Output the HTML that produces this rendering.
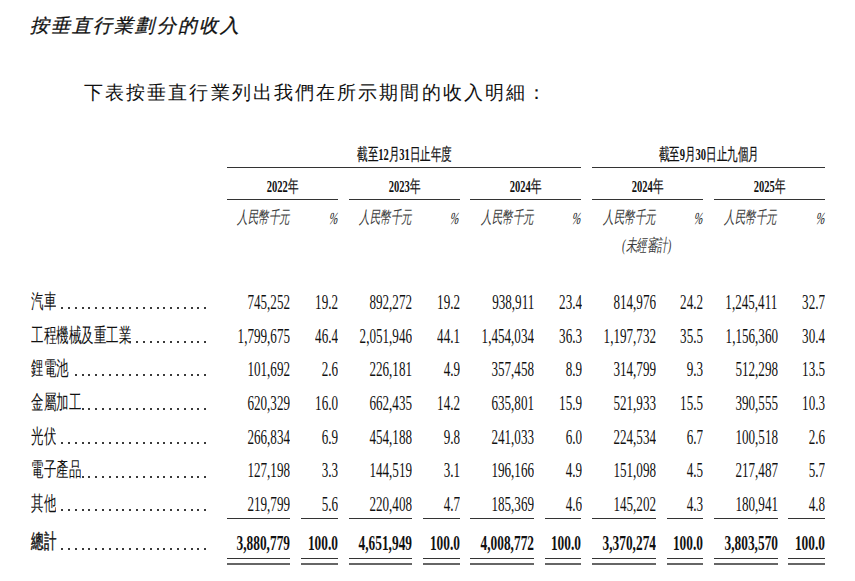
<!DOCTYPE html><html><head><meta charset="utf-8"><style>
html,body{margin:0;padding:0;background:#fff;}
body{width:855px;height:581px;position:relative;overflow:hidden;color:#111;font-family:"Liberation Serif";}
.t{position:absolute;white-space:nowrap;line-height:1;}
.r{transform-origin:100% 0;}
.c{transform-origin:50% 0;}
.l{transform-origin:0 0;}
.ln{position:absolute;background:#333;height:1.2px;}
</style></head><body>
<div class="t" style="left:30px;top:15.7px;font-size:19px;letter-spacing:2.1px;font-family:'Liberation Sans';font-style:italic;-webkit-text-stroke:0.3px #111;">按垂直行業劃分的收入</div>
<div class="t" style="left:84px;top:83px;font-size:19px;letter-spacing:2.1px;">下表按垂直行業列出我們在所示期間的收入明細：</div>
<div class="ln" style="left:226.70px;top:167.00px;width:354.80px;height:1.2px;background:#333"></div>
<div class="ln" style="left:592.10px;top:167.00px;width:233.00px;height:1.2px;background:#333"></div>
<div class="ln" style="left:226.70px;top:199.00px;width:111.20px;height:1.2px;background:#333"></div>
<div class="ln" style="left:348.50px;top:199.00px;width:111.20px;height:1.2px;background:#333"></div>
<div class="ln" style="left:470.30px;top:199.00px;width:111.20px;height:1.2px;background:#333"></div>
<div class="ln" style="left:592.10px;top:199.00px;width:111.20px;height:1.2px;background:#333"></div>
<div class="ln" style="left:713.90px;top:199.00px;width:111.20px;height:1.2px;background:#333"></div>
<div class="t" style="left:204.10px;width:400px;text-align:center;top:145.50px;font-size:17px;font-weight:bold;"><span style="display:inline-block;transform:scaleX(0.62);transform-origin:50% 0"><span style="font-weight:normal;-webkit-text-stroke:0.25px #111">截至</span>12<span style="font-weight:normal;-webkit-text-stroke:0.25px #111">月</span>31<span style="font-weight:normal;-webkit-text-stroke:0.25px #111">日止年度</span></span></div>
<div class="t" style="left:508.60px;width:400px;text-align:center;top:145.50px;font-size:17px;font-weight:bold;"><span style="display:inline-block;transform:scaleX(0.62);transform-origin:50% 0"><span style="font-weight:normal;-webkit-text-stroke:0.25px #111">截至</span>9<span style="font-weight:normal;-webkit-text-stroke:0.25px #111">月</span>30<span style="font-weight:normal;-webkit-text-stroke:0.25px #111">日止九個月</span></span></div>
<div class="t" style="left:82.30px;width:400px;text-align:center;top:178.00px;font-size:17px;font-weight:bold;"><span style="display:inline-block;transform:scaleX(0.62);transform-origin:50% 0">2022<span style="font-weight:normal;-webkit-text-stroke:0.25px #111">年</span></span></div>
<div class="t" style="left:-9.80px;width:300px;text-align:right;top:209.20px;font-size:17px;font-style:italic;color:#3a3a3a;"><span style="display:inline-block;transform:scaleX(0.62);transform-origin:100% 0">人民幣千元</span></div>
<div class="t" style="left:37.70px;width:300px;text-align:right;top:209.50px;font-size:17px;font-style:italic;"><span style="display:inline-block;transform:scaleX(0.62);transform-origin:100% 0"><span style="display:inline-block;transform:skewX(-12deg)">%</span></span></div>
<div class="t" style="left:204.10px;width:400px;text-align:center;top:178.00px;font-size:17px;font-weight:bold;"><span style="display:inline-block;transform:scaleX(0.62);transform-origin:50% 0">2023<span style="font-weight:normal;-webkit-text-stroke:0.25px #111">年</span></span></div>
<div class="t" style="left:112.00px;width:300px;text-align:right;top:209.20px;font-size:17px;font-style:italic;color:#3a3a3a;"><span style="display:inline-block;transform:scaleX(0.62);transform-origin:100% 0">人民幣千元</span></div>
<div class="t" style="left:159.50px;width:300px;text-align:right;top:209.50px;font-size:17px;font-style:italic;"><span style="display:inline-block;transform:scaleX(0.62);transform-origin:100% 0"><span style="display:inline-block;transform:skewX(-12deg)">%</span></span></div>
<div class="t" style="left:325.90px;width:400px;text-align:center;top:178.00px;font-size:17px;font-weight:bold;"><span style="display:inline-block;transform:scaleX(0.62);transform-origin:50% 0">2024<span style="font-weight:normal;-webkit-text-stroke:0.25px #111">年</span></span></div>
<div class="t" style="left:233.80px;width:300px;text-align:right;top:209.20px;font-size:17px;font-style:italic;color:#3a3a3a;"><span style="display:inline-block;transform:scaleX(0.62);transform-origin:100% 0">人民幣千元</span></div>
<div class="t" style="left:281.30px;width:300px;text-align:right;top:209.50px;font-size:17px;font-style:italic;"><span style="display:inline-block;transform:scaleX(0.62);transform-origin:100% 0"><span style="display:inline-block;transform:skewX(-12deg)">%</span></span></div>
<div class="t" style="left:447.70px;width:400px;text-align:center;top:178.00px;font-size:17px;font-weight:bold;"><span style="display:inline-block;transform:scaleX(0.62);transform-origin:50% 0">2024<span style="font-weight:normal;-webkit-text-stroke:0.25px #111">年</span></span></div>
<div class="t" style="left:355.60px;width:300px;text-align:right;top:209.20px;font-size:17px;font-style:italic;color:#3a3a3a;"><span style="display:inline-block;transform:scaleX(0.62);transform-origin:100% 0">人民幣千元</span></div>
<div class="t" style="left:403.10px;width:300px;text-align:right;top:209.50px;font-size:17px;font-style:italic;"><span style="display:inline-block;transform:scaleX(0.62);transform-origin:100% 0"><span style="display:inline-block;transform:skewX(-12deg)">%</span></span></div>
<div class="t" style="left:569.50px;width:400px;text-align:center;top:178.00px;font-size:17px;font-weight:bold;"><span style="display:inline-block;transform:scaleX(0.62);transform-origin:50% 0">2025<span style="font-weight:normal;-webkit-text-stroke:0.25px #111">年</span></span></div>
<div class="t" style="left:477.40px;width:300px;text-align:right;top:209.20px;font-size:17px;font-style:italic;color:#3a3a3a;"><span style="display:inline-block;transform:scaleX(0.62);transform-origin:100% 0">人民幣千元</span></div>
<div class="t" style="left:524.90px;width:300px;text-align:right;top:209.50px;font-size:17px;font-style:italic;"><span style="display:inline-block;transform:scaleX(0.62);transform-origin:100% 0"><span style="display:inline-block;transform:skewX(-12deg)">%</span></span></div>
<div class="t" style="left:446.50px;width:400px;text-align:center;top:236.50px;font-size:17px;font-style:italic;color:#3a3a3a;"><span style="display:inline-block;transform:scaleX(0.62);transform-origin:50% 0">(未經審計)</span></div>
<div class="t" style="left:31.00px;top:290.80px;font-size:20px;"><span style="display:inline-block;transform:scaleX(0.625);transform-origin:0 0">汽車</span></div>
<div class="t" style="left:-9.60px;width:300px;text-align:right;top:291.80px;font-size:20px;"><span style="display:inline-block;transform:scaleX(0.655);transform-origin:100% 0">745,252</span></div>
<div class="t" style="left:37.90px;width:300px;text-align:right;top:291.80px;font-size:20px;"><span style="display:inline-block;transform:scaleX(0.655);transform-origin:100% 0">19.2</span></div>
<div class="t" style="left:112.20px;width:300px;text-align:right;top:291.80px;font-size:20px;"><span style="display:inline-block;transform:scaleX(0.655);transform-origin:100% 0">892,272</span></div>
<div class="t" style="left:159.70px;width:300px;text-align:right;top:291.80px;font-size:20px;"><span style="display:inline-block;transform:scaleX(0.655);transform-origin:100% 0">19.2</span></div>
<div class="t" style="left:234.00px;width:300px;text-align:right;top:291.80px;font-size:20px;"><span style="display:inline-block;transform:scaleX(0.655);transform-origin:100% 0">938,911</span></div>
<div class="t" style="left:281.50px;width:300px;text-align:right;top:291.80px;font-size:20px;"><span style="display:inline-block;transform:scaleX(0.655);transform-origin:100% 0">23.4</span></div>
<div class="t" style="left:355.80px;width:300px;text-align:right;top:291.80px;font-size:20px;"><span style="display:inline-block;transform:scaleX(0.655);transform-origin:100% 0">814,976</span></div>
<div class="t" style="left:403.30px;width:300px;text-align:right;top:291.80px;font-size:20px;"><span style="display:inline-block;transform:scaleX(0.655);transform-origin:100% 0">24.2</span></div>
<div class="t" style="left:477.60px;width:300px;text-align:right;top:291.80px;font-size:20px;"><span style="display:inline-block;transform:scaleX(0.655);transform-origin:100% 0">1,245,411</span></div>
<div class="t" style="left:525.10px;width:300px;text-align:right;top:291.80px;font-size:20px;"><span style="display:inline-block;transform:scaleX(0.655);transform-origin:100% 0">32.7</span></div>
<div class="t" style="left:31.00px;top:324.52px;font-size:20px;"><span style="display:inline-block;transform:scaleX(0.625);transform-origin:0 0">工程機械及重工業</span></div>
<div class="t" style="left:-9.60px;width:300px;text-align:right;top:325.52px;font-size:20px;"><span style="display:inline-block;transform:scaleX(0.655);transform-origin:100% 0">1,799,675</span></div>
<div class="t" style="left:37.90px;width:300px;text-align:right;top:325.52px;font-size:20px;"><span style="display:inline-block;transform:scaleX(0.655);transform-origin:100% 0">46.4</span></div>
<div class="t" style="left:112.20px;width:300px;text-align:right;top:325.52px;font-size:20px;"><span style="display:inline-block;transform:scaleX(0.655);transform-origin:100% 0">2,051,946</span></div>
<div class="t" style="left:159.70px;width:300px;text-align:right;top:325.52px;font-size:20px;"><span style="display:inline-block;transform:scaleX(0.655);transform-origin:100% 0">44.1</span></div>
<div class="t" style="left:234.00px;width:300px;text-align:right;top:325.52px;font-size:20px;"><span style="display:inline-block;transform:scaleX(0.655);transform-origin:100% 0">1,454,034</span></div>
<div class="t" style="left:281.50px;width:300px;text-align:right;top:325.52px;font-size:20px;"><span style="display:inline-block;transform:scaleX(0.655);transform-origin:100% 0">36.3</span></div>
<div class="t" style="left:355.80px;width:300px;text-align:right;top:325.52px;font-size:20px;"><span style="display:inline-block;transform:scaleX(0.655);transform-origin:100% 0">1,197,732</span></div>
<div class="t" style="left:403.30px;width:300px;text-align:right;top:325.52px;font-size:20px;"><span style="display:inline-block;transform:scaleX(0.655);transform-origin:100% 0">35.5</span></div>
<div class="t" style="left:477.60px;width:300px;text-align:right;top:325.52px;font-size:20px;"><span style="display:inline-block;transform:scaleX(0.655);transform-origin:100% 0">1,156,360</span></div>
<div class="t" style="left:525.10px;width:300px;text-align:right;top:325.52px;font-size:20px;"><span style="display:inline-block;transform:scaleX(0.655);transform-origin:100% 0">30.4</span></div>
<div class="t" style="left:31.00px;top:358.24px;font-size:20px;"><span style="display:inline-block;transform:scaleX(0.625);transform-origin:0 0">鋰電池</span></div>
<div class="t" style="left:-9.60px;width:300px;text-align:right;top:359.24px;font-size:20px;"><span style="display:inline-block;transform:scaleX(0.655);transform-origin:100% 0">101,692</span></div>
<div class="t" style="left:37.90px;width:300px;text-align:right;top:359.24px;font-size:20px;"><span style="display:inline-block;transform:scaleX(0.655);transform-origin:100% 0">2.6</span></div>
<div class="t" style="left:112.20px;width:300px;text-align:right;top:359.24px;font-size:20px;"><span style="display:inline-block;transform:scaleX(0.655);transform-origin:100% 0">226,181</span></div>
<div class="t" style="left:159.70px;width:300px;text-align:right;top:359.24px;font-size:20px;"><span style="display:inline-block;transform:scaleX(0.655);transform-origin:100% 0">4.9</span></div>
<div class="t" style="left:234.00px;width:300px;text-align:right;top:359.24px;font-size:20px;"><span style="display:inline-block;transform:scaleX(0.655);transform-origin:100% 0">357,458</span></div>
<div class="t" style="left:281.50px;width:300px;text-align:right;top:359.24px;font-size:20px;"><span style="display:inline-block;transform:scaleX(0.655);transform-origin:100% 0">8.9</span></div>
<div class="t" style="left:355.80px;width:300px;text-align:right;top:359.24px;font-size:20px;"><span style="display:inline-block;transform:scaleX(0.655);transform-origin:100% 0">314,799</span></div>
<div class="t" style="left:403.30px;width:300px;text-align:right;top:359.24px;font-size:20px;"><span style="display:inline-block;transform:scaleX(0.655);transform-origin:100% 0">9.3</span></div>
<div class="t" style="left:477.60px;width:300px;text-align:right;top:359.24px;font-size:20px;"><span style="display:inline-block;transform:scaleX(0.655);transform-origin:100% 0">512,298</span></div>
<div class="t" style="left:525.10px;width:300px;text-align:right;top:359.24px;font-size:20px;"><span style="display:inline-block;transform:scaleX(0.655);transform-origin:100% 0">13.5</span></div>
<div class="t" style="left:31.00px;top:391.96px;font-size:20px;"><span style="display:inline-block;transform:scaleX(0.625);transform-origin:0 0">金屬加工</span></div>
<div class="t" style="left:-9.60px;width:300px;text-align:right;top:392.96px;font-size:20px;"><span style="display:inline-block;transform:scaleX(0.655);transform-origin:100% 0">620,329</span></div>
<div class="t" style="left:37.90px;width:300px;text-align:right;top:392.96px;font-size:20px;"><span style="display:inline-block;transform:scaleX(0.655);transform-origin:100% 0">16.0</span></div>
<div class="t" style="left:112.20px;width:300px;text-align:right;top:392.96px;font-size:20px;"><span style="display:inline-block;transform:scaleX(0.655);transform-origin:100% 0">662,435</span></div>
<div class="t" style="left:159.70px;width:300px;text-align:right;top:392.96px;font-size:20px;"><span style="display:inline-block;transform:scaleX(0.655);transform-origin:100% 0">14.2</span></div>
<div class="t" style="left:234.00px;width:300px;text-align:right;top:392.96px;font-size:20px;"><span style="display:inline-block;transform:scaleX(0.655);transform-origin:100% 0">635,801</span></div>
<div class="t" style="left:281.50px;width:300px;text-align:right;top:392.96px;font-size:20px;"><span style="display:inline-block;transform:scaleX(0.655);transform-origin:100% 0">15.9</span></div>
<div class="t" style="left:355.80px;width:300px;text-align:right;top:392.96px;font-size:20px;"><span style="display:inline-block;transform:scaleX(0.655);transform-origin:100% 0">521,933</span></div>
<div class="t" style="left:403.30px;width:300px;text-align:right;top:392.96px;font-size:20px;"><span style="display:inline-block;transform:scaleX(0.655);transform-origin:100% 0">15.5</span></div>
<div class="t" style="left:477.60px;width:300px;text-align:right;top:392.96px;font-size:20px;"><span style="display:inline-block;transform:scaleX(0.655);transform-origin:100% 0">390,555</span></div>
<div class="t" style="left:525.10px;width:300px;text-align:right;top:392.96px;font-size:20px;"><span style="display:inline-block;transform:scaleX(0.655);transform-origin:100% 0">10.3</span></div>
<div class="t" style="left:31.00px;top:425.68px;font-size:20px;"><span style="display:inline-block;transform:scaleX(0.625);transform-origin:0 0">光伏</span></div>
<div class="t" style="left:-9.60px;width:300px;text-align:right;top:426.68px;font-size:20px;"><span style="display:inline-block;transform:scaleX(0.655);transform-origin:100% 0">266,834</span></div>
<div class="t" style="left:37.90px;width:300px;text-align:right;top:426.68px;font-size:20px;"><span style="display:inline-block;transform:scaleX(0.655);transform-origin:100% 0">6.9</span></div>
<div class="t" style="left:112.20px;width:300px;text-align:right;top:426.68px;font-size:20px;"><span style="display:inline-block;transform:scaleX(0.655);transform-origin:100% 0">454,188</span></div>
<div class="t" style="left:159.70px;width:300px;text-align:right;top:426.68px;font-size:20px;"><span style="display:inline-block;transform:scaleX(0.655);transform-origin:100% 0">9.8</span></div>
<div class="t" style="left:234.00px;width:300px;text-align:right;top:426.68px;font-size:20px;"><span style="display:inline-block;transform:scaleX(0.655);transform-origin:100% 0">241,033</span></div>
<div class="t" style="left:281.50px;width:300px;text-align:right;top:426.68px;font-size:20px;"><span style="display:inline-block;transform:scaleX(0.655);transform-origin:100% 0">6.0</span></div>
<div class="t" style="left:355.80px;width:300px;text-align:right;top:426.68px;font-size:20px;"><span style="display:inline-block;transform:scaleX(0.655);transform-origin:100% 0">224,534</span></div>
<div class="t" style="left:403.30px;width:300px;text-align:right;top:426.68px;font-size:20px;"><span style="display:inline-block;transform:scaleX(0.655);transform-origin:100% 0">6.7</span></div>
<div class="t" style="left:477.60px;width:300px;text-align:right;top:426.68px;font-size:20px;"><span style="display:inline-block;transform:scaleX(0.655);transform-origin:100% 0">100,518</span></div>
<div class="t" style="left:525.10px;width:300px;text-align:right;top:426.68px;font-size:20px;"><span style="display:inline-block;transform:scaleX(0.655);transform-origin:100% 0">2.6</span></div>
<div class="t" style="left:31.00px;top:459.40px;font-size:20px;"><span style="display:inline-block;transform:scaleX(0.625);transform-origin:0 0">電子產品</span></div>
<div class="t" style="left:-9.60px;width:300px;text-align:right;top:460.40px;font-size:20px;"><span style="display:inline-block;transform:scaleX(0.655);transform-origin:100% 0">127,198</span></div>
<div class="t" style="left:37.90px;width:300px;text-align:right;top:460.40px;font-size:20px;"><span style="display:inline-block;transform:scaleX(0.655);transform-origin:100% 0">3.3</span></div>
<div class="t" style="left:112.20px;width:300px;text-align:right;top:460.40px;font-size:20px;"><span style="display:inline-block;transform:scaleX(0.655);transform-origin:100% 0">144,519</span></div>
<div class="t" style="left:159.70px;width:300px;text-align:right;top:460.40px;font-size:20px;"><span style="display:inline-block;transform:scaleX(0.655);transform-origin:100% 0">3.1</span></div>
<div class="t" style="left:234.00px;width:300px;text-align:right;top:460.40px;font-size:20px;"><span style="display:inline-block;transform:scaleX(0.655);transform-origin:100% 0">196,166</span></div>
<div class="t" style="left:281.50px;width:300px;text-align:right;top:460.40px;font-size:20px;"><span style="display:inline-block;transform:scaleX(0.655);transform-origin:100% 0">4.9</span></div>
<div class="t" style="left:355.80px;width:300px;text-align:right;top:460.40px;font-size:20px;"><span style="display:inline-block;transform:scaleX(0.655);transform-origin:100% 0">151,098</span></div>
<div class="t" style="left:403.30px;width:300px;text-align:right;top:460.40px;font-size:20px;"><span style="display:inline-block;transform:scaleX(0.655);transform-origin:100% 0">4.5</span></div>
<div class="t" style="left:477.60px;width:300px;text-align:right;top:460.40px;font-size:20px;"><span style="display:inline-block;transform:scaleX(0.655);transform-origin:100% 0">217,487</span></div>
<div class="t" style="left:525.10px;width:300px;text-align:right;top:460.40px;font-size:20px;"><span style="display:inline-block;transform:scaleX(0.655);transform-origin:100% 0">5.7</span></div>
<div class="t" style="left:31.00px;top:493.12px;font-size:20px;"><span style="display:inline-block;transform:scaleX(0.625);transform-origin:0 0">其他</span></div>
<div class="t" style="left:-9.60px;width:300px;text-align:right;top:494.12px;font-size:20px;"><span style="display:inline-block;transform:scaleX(0.655);transform-origin:100% 0">219,799</span></div>
<div class="t" style="left:37.90px;width:300px;text-align:right;top:494.12px;font-size:20px;"><span style="display:inline-block;transform:scaleX(0.655);transform-origin:100% 0">5.6</span></div>
<div class="t" style="left:112.20px;width:300px;text-align:right;top:494.12px;font-size:20px;"><span style="display:inline-block;transform:scaleX(0.655);transform-origin:100% 0">220,408</span></div>
<div class="t" style="left:159.70px;width:300px;text-align:right;top:494.12px;font-size:20px;"><span style="display:inline-block;transform:scaleX(0.655);transform-origin:100% 0">4.7</span></div>
<div class="t" style="left:234.00px;width:300px;text-align:right;top:494.12px;font-size:20px;"><span style="display:inline-block;transform:scaleX(0.655);transform-origin:100% 0">185,369</span></div>
<div class="t" style="left:281.50px;width:300px;text-align:right;top:494.12px;font-size:20px;"><span style="display:inline-block;transform:scaleX(0.655);transform-origin:100% 0">4.6</span></div>
<div class="t" style="left:355.80px;width:300px;text-align:right;top:494.12px;font-size:20px;"><span style="display:inline-block;transform:scaleX(0.655);transform-origin:100% 0">145,202</span></div>
<div class="t" style="left:403.30px;width:300px;text-align:right;top:494.12px;font-size:20px;"><span style="display:inline-block;transform:scaleX(0.655);transform-origin:100% 0">4.3</span></div>
<div class="t" style="left:477.60px;width:300px;text-align:right;top:494.12px;font-size:20px;"><span style="display:inline-block;transform:scaleX(0.655);transform-origin:100% 0">180,941</span></div>
<div class="t" style="left:525.10px;width:300px;text-align:right;top:494.12px;font-size:20px;"><span style="display:inline-block;transform:scaleX(0.655);transform-origin:100% 0">4.8</span></div>
<div class="ln" style="left:61px;top:307px;width:2px;height:2px;background:#3a3a3a"></div>
<div class="ln" style="left:68px;top:307px;width:2px;height:2px;background:#3a3a3a"></div>
<div class="ln" style="left:75px;top:307px;width:2px;height:2px;background:#3a3a3a"></div>
<div class="ln" style="left:82px;top:307px;width:2px;height:2px;background:#3a3a3a"></div>
<div class="ln" style="left:88px;top:307px;width:2px;height:2px;background:#3a3a3a"></div>
<div class="ln" style="left:95px;top:307px;width:2px;height:2px;background:#3a3a3a"></div>
<div class="ln" style="left:102px;top:307px;width:2px;height:2px;background:#3a3a3a"></div>
<div class="ln" style="left:109px;top:307px;width:2px;height:2px;background:#3a3a3a"></div>
<div class="ln" style="left:116px;top:307px;width:2px;height:2px;background:#3a3a3a"></div>
<div class="ln" style="left:122px;top:307px;width:2px;height:2px;background:#3a3a3a"></div>
<div class="ln" style="left:129px;top:307px;width:2px;height:2px;background:#3a3a3a"></div>
<div class="ln" style="left:136px;top:307px;width:2px;height:2px;background:#3a3a3a"></div>
<div class="ln" style="left:143px;top:307px;width:2px;height:2px;background:#3a3a3a"></div>
<div class="ln" style="left:150px;top:307px;width:2px;height:2px;background:#3a3a3a"></div>
<div class="ln" style="left:157px;top:307px;width:2px;height:2px;background:#3a3a3a"></div>
<div class="ln" style="left:163px;top:307px;width:2px;height:2px;background:#3a3a3a"></div>
<div class="ln" style="left:170px;top:307px;width:2px;height:2px;background:#3a3a3a"></div>
<div class="ln" style="left:177px;top:307px;width:2px;height:2px;background:#3a3a3a"></div>
<div class="ln" style="left:184px;top:307px;width:2px;height:2px;background:#3a3a3a"></div>
<div class="ln" style="left:191px;top:307px;width:2px;height:2px;background:#3a3a3a"></div>
<div class="ln" style="left:197px;top:307px;width:2px;height:2px;background:#3a3a3a"></div>
<div class="ln" style="left:204px;top:307px;width:2px;height:2px;background:#3a3a3a"></div>
<div class="ln" style="left:129px;top:341px;width:2px;height:2px;background:#3a3a3a"></div>
<div class="ln" style="left:136px;top:341px;width:2px;height:2px;background:#3a3a3a"></div>
<div class="ln" style="left:143px;top:341px;width:2px;height:2px;background:#3a3a3a"></div>
<div class="ln" style="left:150px;top:341px;width:2px;height:2px;background:#3a3a3a"></div>
<div class="ln" style="left:157px;top:341px;width:2px;height:2px;background:#3a3a3a"></div>
<div class="ln" style="left:163px;top:341px;width:2px;height:2px;background:#3a3a3a"></div>
<div class="ln" style="left:170px;top:341px;width:2px;height:2px;background:#3a3a3a"></div>
<div class="ln" style="left:177px;top:341px;width:2px;height:2px;background:#3a3a3a"></div>
<div class="ln" style="left:184px;top:341px;width:2px;height:2px;background:#3a3a3a"></div>
<div class="ln" style="left:191px;top:341px;width:2px;height:2px;background:#3a3a3a"></div>
<div class="ln" style="left:197px;top:341px;width:2px;height:2px;background:#3a3a3a"></div>
<div class="ln" style="left:204px;top:341px;width:2px;height:2px;background:#3a3a3a"></div>
<div class="ln" style="left:75px;top:374px;width:2px;height:2px;background:#3a3a3a"></div>
<div class="ln" style="left:82px;top:374px;width:2px;height:2px;background:#3a3a3a"></div>
<div class="ln" style="left:88px;top:374px;width:2px;height:2px;background:#3a3a3a"></div>
<div class="ln" style="left:95px;top:374px;width:2px;height:2px;background:#3a3a3a"></div>
<div class="ln" style="left:102px;top:374px;width:2px;height:2px;background:#3a3a3a"></div>
<div class="ln" style="left:109px;top:374px;width:2px;height:2px;background:#3a3a3a"></div>
<div class="ln" style="left:116px;top:374px;width:2px;height:2px;background:#3a3a3a"></div>
<div class="ln" style="left:122px;top:374px;width:2px;height:2px;background:#3a3a3a"></div>
<div class="ln" style="left:129px;top:374px;width:2px;height:2px;background:#3a3a3a"></div>
<div class="ln" style="left:136px;top:374px;width:2px;height:2px;background:#3a3a3a"></div>
<div class="ln" style="left:143px;top:374px;width:2px;height:2px;background:#3a3a3a"></div>
<div class="ln" style="left:150px;top:374px;width:2px;height:2px;background:#3a3a3a"></div>
<div class="ln" style="left:157px;top:374px;width:2px;height:2px;background:#3a3a3a"></div>
<div class="ln" style="left:163px;top:374px;width:2px;height:2px;background:#3a3a3a"></div>
<div class="ln" style="left:170px;top:374px;width:2px;height:2px;background:#3a3a3a"></div>
<div class="ln" style="left:177px;top:374px;width:2px;height:2px;background:#3a3a3a"></div>
<div class="ln" style="left:184px;top:374px;width:2px;height:2px;background:#3a3a3a"></div>
<div class="ln" style="left:191px;top:374px;width:2px;height:2px;background:#3a3a3a"></div>
<div class="ln" style="left:197px;top:374px;width:2px;height:2px;background:#3a3a3a"></div>
<div class="ln" style="left:204px;top:374px;width:2px;height:2px;background:#3a3a3a"></div>
<div class="ln" style="left:82px;top:408px;width:2px;height:2px;background:#3a3a3a"></div>
<div class="ln" style="left:88px;top:408px;width:2px;height:2px;background:#3a3a3a"></div>
<div class="ln" style="left:95px;top:408px;width:2px;height:2px;background:#3a3a3a"></div>
<div class="ln" style="left:102px;top:408px;width:2px;height:2px;background:#3a3a3a"></div>
<div class="ln" style="left:109px;top:408px;width:2px;height:2px;background:#3a3a3a"></div>
<div class="ln" style="left:116px;top:408px;width:2px;height:2px;background:#3a3a3a"></div>
<div class="ln" style="left:122px;top:408px;width:2px;height:2px;background:#3a3a3a"></div>
<div class="ln" style="left:129px;top:408px;width:2px;height:2px;background:#3a3a3a"></div>
<div class="ln" style="left:136px;top:408px;width:2px;height:2px;background:#3a3a3a"></div>
<div class="ln" style="left:143px;top:408px;width:2px;height:2px;background:#3a3a3a"></div>
<div class="ln" style="left:150px;top:408px;width:2px;height:2px;background:#3a3a3a"></div>
<div class="ln" style="left:157px;top:408px;width:2px;height:2px;background:#3a3a3a"></div>
<div class="ln" style="left:163px;top:408px;width:2px;height:2px;background:#3a3a3a"></div>
<div class="ln" style="left:170px;top:408px;width:2px;height:2px;background:#3a3a3a"></div>
<div class="ln" style="left:177px;top:408px;width:2px;height:2px;background:#3a3a3a"></div>
<div class="ln" style="left:184px;top:408px;width:2px;height:2px;background:#3a3a3a"></div>
<div class="ln" style="left:191px;top:408px;width:2px;height:2px;background:#3a3a3a"></div>
<div class="ln" style="left:197px;top:408px;width:2px;height:2px;background:#3a3a3a"></div>
<div class="ln" style="left:204px;top:408px;width:2px;height:2px;background:#3a3a3a"></div>
<div class="ln" style="left:61px;top:442px;width:2px;height:2px;background:#3a3a3a"></div>
<div class="ln" style="left:68px;top:442px;width:2px;height:2px;background:#3a3a3a"></div>
<div class="ln" style="left:75px;top:442px;width:2px;height:2px;background:#3a3a3a"></div>
<div class="ln" style="left:82px;top:442px;width:2px;height:2px;background:#3a3a3a"></div>
<div class="ln" style="left:88px;top:442px;width:2px;height:2px;background:#3a3a3a"></div>
<div class="ln" style="left:95px;top:442px;width:2px;height:2px;background:#3a3a3a"></div>
<div class="ln" style="left:102px;top:442px;width:2px;height:2px;background:#3a3a3a"></div>
<div class="ln" style="left:109px;top:442px;width:2px;height:2px;background:#3a3a3a"></div>
<div class="ln" style="left:116px;top:442px;width:2px;height:2px;background:#3a3a3a"></div>
<div class="ln" style="left:122px;top:442px;width:2px;height:2px;background:#3a3a3a"></div>
<div class="ln" style="left:129px;top:442px;width:2px;height:2px;background:#3a3a3a"></div>
<div class="ln" style="left:136px;top:442px;width:2px;height:2px;background:#3a3a3a"></div>
<div class="ln" style="left:143px;top:442px;width:2px;height:2px;background:#3a3a3a"></div>
<div class="ln" style="left:150px;top:442px;width:2px;height:2px;background:#3a3a3a"></div>
<div class="ln" style="left:157px;top:442px;width:2px;height:2px;background:#3a3a3a"></div>
<div class="ln" style="left:163px;top:442px;width:2px;height:2px;background:#3a3a3a"></div>
<div class="ln" style="left:170px;top:442px;width:2px;height:2px;background:#3a3a3a"></div>
<div class="ln" style="left:177px;top:442px;width:2px;height:2px;background:#3a3a3a"></div>
<div class="ln" style="left:184px;top:442px;width:2px;height:2px;background:#3a3a3a"></div>
<div class="ln" style="left:191px;top:442px;width:2px;height:2px;background:#3a3a3a"></div>
<div class="ln" style="left:197px;top:442px;width:2px;height:2px;background:#3a3a3a"></div>
<div class="ln" style="left:204px;top:442px;width:2px;height:2px;background:#3a3a3a"></div>
<div class="ln" style="left:82px;top:476px;width:2px;height:2px;background:#3a3a3a"></div>
<div class="ln" style="left:88px;top:476px;width:2px;height:2px;background:#3a3a3a"></div>
<div class="ln" style="left:95px;top:476px;width:2px;height:2px;background:#3a3a3a"></div>
<div class="ln" style="left:102px;top:476px;width:2px;height:2px;background:#3a3a3a"></div>
<div class="ln" style="left:109px;top:476px;width:2px;height:2px;background:#3a3a3a"></div>
<div class="ln" style="left:116px;top:476px;width:2px;height:2px;background:#3a3a3a"></div>
<div class="ln" style="left:122px;top:476px;width:2px;height:2px;background:#3a3a3a"></div>
<div class="ln" style="left:129px;top:476px;width:2px;height:2px;background:#3a3a3a"></div>
<div class="ln" style="left:136px;top:476px;width:2px;height:2px;background:#3a3a3a"></div>
<div class="ln" style="left:143px;top:476px;width:2px;height:2px;background:#3a3a3a"></div>
<div class="ln" style="left:150px;top:476px;width:2px;height:2px;background:#3a3a3a"></div>
<div class="ln" style="left:157px;top:476px;width:2px;height:2px;background:#3a3a3a"></div>
<div class="ln" style="left:163px;top:476px;width:2px;height:2px;background:#3a3a3a"></div>
<div class="ln" style="left:170px;top:476px;width:2px;height:2px;background:#3a3a3a"></div>
<div class="ln" style="left:177px;top:476px;width:2px;height:2px;background:#3a3a3a"></div>
<div class="ln" style="left:184px;top:476px;width:2px;height:2px;background:#3a3a3a"></div>
<div class="ln" style="left:191px;top:476px;width:2px;height:2px;background:#3a3a3a"></div>
<div class="ln" style="left:197px;top:476px;width:2px;height:2px;background:#3a3a3a"></div>
<div class="ln" style="left:204px;top:476px;width:2px;height:2px;background:#3a3a3a"></div>
<div class="ln" style="left:61px;top:509px;width:2px;height:2px;background:#3a3a3a"></div>
<div class="ln" style="left:68px;top:509px;width:2px;height:2px;background:#3a3a3a"></div>
<div class="ln" style="left:75px;top:509px;width:2px;height:2px;background:#3a3a3a"></div>
<div class="ln" style="left:82px;top:509px;width:2px;height:2px;background:#3a3a3a"></div>
<div class="ln" style="left:88px;top:509px;width:2px;height:2px;background:#3a3a3a"></div>
<div class="ln" style="left:95px;top:509px;width:2px;height:2px;background:#3a3a3a"></div>
<div class="ln" style="left:102px;top:509px;width:2px;height:2px;background:#3a3a3a"></div>
<div class="ln" style="left:109px;top:509px;width:2px;height:2px;background:#3a3a3a"></div>
<div class="ln" style="left:116px;top:509px;width:2px;height:2px;background:#3a3a3a"></div>
<div class="ln" style="left:122px;top:509px;width:2px;height:2px;background:#3a3a3a"></div>
<div class="ln" style="left:129px;top:509px;width:2px;height:2px;background:#3a3a3a"></div>
<div class="ln" style="left:136px;top:509px;width:2px;height:2px;background:#3a3a3a"></div>
<div class="ln" style="left:143px;top:509px;width:2px;height:2px;background:#3a3a3a"></div>
<div class="ln" style="left:150px;top:509px;width:2px;height:2px;background:#3a3a3a"></div>
<div class="ln" style="left:157px;top:509px;width:2px;height:2px;background:#3a3a3a"></div>
<div class="ln" style="left:163px;top:509px;width:2px;height:2px;background:#3a3a3a"></div>
<div class="ln" style="left:170px;top:509px;width:2px;height:2px;background:#3a3a3a"></div>
<div class="ln" style="left:177px;top:509px;width:2px;height:2px;background:#3a3a3a"></div>
<div class="ln" style="left:184px;top:509px;width:2px;height:2px;background:#3a3a3a"></div>
<div class="ln" style="left:191px;top:509px;width:2px;height:2px;background:#3a3a3a"></div>
<div class="ln" style="left:197px;top:509px;width:2px;height:2px;background:#3a3a3a"></div>
<div class="ln" style="left:204px;top:509px;width:2px;height:2px;background:#3a3a3a"></div>
<div class="ln" style="left:61px;top:548px;width:2px;height:2px;background:#3a3a3a"></div>
<div class="ln" style="left:68px;top:548px;width:2px;height:2px;background:#3a3a3a"></div>
<div class="ln" style="left:75px;top:548px;width:2px;height:2px;background:#3a3a3a"></div>
<div class="ln" style="left:82px;top:548px;width:2px;height:2px;background:#3a3a3a"></div>
<div class="ln" style="left:88px;top:548px;width:2px;height:2px;background:#3a3a3a"></div>
<div class="ln" style="left:95px;top:548px;width:2px;height:2px;background:#3a3a3a"></div>
<div class="ln" style="left:102px;top:548px;width:2px;height:2px;background:#3a3a3a"></div>
<div class="ln" style="left:109px;top:548px;width:2px;height:2px;background:#3a3a3a"></div>
<div class="ln" style="left:116px;top:548px;width:2px;height:2px;background:#3a3a3a"></div>
<div class="ln" style="left:122px;top:548px;width:2px;height:2px;background:#3a3a3a"></div>
<div class="ln" style="left:129px;top:548px;width:2px;height:2px;background:#3a3a3a"></div>
<div class="ln" style="left:136px;top:548px;width:2px;height:2px;background:#3a3a3a"></div>
<div class="ln" style="left:143px;top:548px;width:2px;height:2px;background:#3a3a3a"></div>
<div class="ln" style="left:150px;top:548px;width:2px;height:2px;background:#3a3a3a"></div>
<div class="ln" style="left:157px;top:548px;width:2px;height:2px;background:#3a3a3a"></div>
<div class="ln" style="left:163px;top:548px;width:2px;height:2px;background:#3a3a3a"></div>
<div class="ln" style="left:170px;top:548px;width:2px;height:2px;background:#3a3a3a"></div>
<div class="ln" style="left:177px;top:548px;width:2px;height:2px;background:#3a3a3a"></div>
<div class="ln" style="left:184px;top:548px;width:2px;height:2px;background:#3a3a3a"></div>
<div class="ln" style="left:191px;top:548px;width:2px;height:2px;background:#3a3a3a"></div>
<div class="ln" style="left:197px;top:548px;width:2px;height:2px;background:#3a3a3a"></div>
<div class="ln" style="left:204px;top:548px;width:2px;height:2px;background:#3a3a3a"></div>
<div class="t" style="left:31.00px;top:531.40px;font-size:20px;-webkit-text-stroke:0.45px #111;"><span style="display:inline-block;transform:scaleX(0.625);transform-origin:0 0">總計</span></div>
<div class="t" style="left:-9.70px;width:300px;text-align:right;top:532.90px;font-size:20px;font-weight:bold;"><span style="display:inline-block;transform:scaleX(0.668);transform-origin:100% 0">3,880,779</span></div>
<div class="t" style="left:37.80px;width:300px;text-align:right;top:532.90px;font-size:20px;font-weight:bold;"><span style="display:inline-block;transform:scaleX(0.668);transform-origin:100% 0">100.0</span></div>
<div class="t" style="left:112.10px;width:300px;text-align:right;top:532.90px;font-size:20px;font-weight:bold;"><span style="display:inline-block;transform:scaleX(0.668);transform-origin:100% 0">4,651,949</span></div>
<div class="t" style="left:159.60px;width:300px;text-align:right;top:532.90px;font-size:20px;font-weight:bold;"><span style="display:inline-block;transform:scaleX(0.668);transform-origin:100% 0">100.0</span></div>
<div class="t" style="left:233.90px;width:300px;text-align:right;top:532.90px;font-size:20px;font-weight:bold;"><span style="display:inline-block;transform:scaleX(0.668);transform-origin:100% 0">4,008,772</span></div>
<div class="t" style="left:281.40px;width:300px;text-align:right;top:532.90px;font-size:20px;font-weight:bold;"><span style="display:inline-block;transform:scaleX(0.668);transform-origin:100% 0">100.0</span></div>
<div class="t" style="left:355.70px;width:300px;text-align:right;top:532.90px;font-size:20px;font-weight:bold;"><span style="display:inline-block;transform:scaleX(0.668);transform-origin:100% 0">3,370,274</span></div>
<div class="t" style="left:403.20px;width:300px;text-align:right;top:532.90px;font-size:20px;font-weight:bold;"><span style="display:inline-block;transform:scaleX(0.668);transform-origin:100% 0">100.0</span></div>
<div class="t" style="left:477.50px;width:300px;text-align:right;top:532.90px;font-size:20px;font-weight:bold;"><span style="display:inline-block;transform:scaleX(0.668);transform-origin:100% 0">3,803,570</span></div>
<div class="t" style="left:525.00px;width:300px;text-align:right;top:532.90px;font-size:20px;font-weight:bold;"><span style="display:inline-block;transform:scaleX(0.668);transform-origin:100% 0">100.0</span></div>
<div class="ln" style="left:226.70px;top:518.00px;width:63.70px;height:1.2px;background:#333"></div>
<div class="ln" style="left:226.70px;top:557.60px;width:63.70px;height:1.2px;background:#333"></div>
<div class="ln" style="left:226.70px;top:563.10px;width:63.70px;height:1.8px;background:#666"></div>
<div class="ln" style="left:301.10px;top:518.00px;width:36.80px;height:1.2px;background:#333"></div>
<div class="ln" style="left:301.10px;top:557.60px;width:36.80px;height:1.2px;background:#333"></div>
<div class="ln" style="left:301.10px;top:563.10px;width:36.80px;height:1.8px;background:#666"></div>
<div class="ln" style="left:348.50px;top:518.00px;width:63.70px;height:1.2px;background:#333"></div>
<div class="ln" style="left:348.50px;top:557.60px;width:63.70px;height:1.2px;background:#333"></div>
<div class="ln" style="left:348.50px;top:563.10px;width:63.70px;height:1.8px;background:#666"></div>
<div class="ln" style="left:422.90px;top:518.00px;width:36.80px;height:1.2px;background:#333"></div>
<div class="ln" style="left:422.90px;top:557.60px;width:36.80px;height:1.2px;background:#333"></div>
<div class="ln" style="left:422.90px;top:563.10px;width:36.80px;height:1.8px;background:#666"></div>
<div class="ln" style="left:470.30px;top:518.00px;width:63.70px;height:1.2px;background:#333"></div>
<div class="ln" style="left:470.30px;top:557.60px;width:63.70px;height:1.2px;background:#333"></div>
<div class="ln" style="left:470.30px;top:563.10px;width:63.70px;height:1.8px;background:#666"></div>
<div class="ln" style="left:544.70px;top:518.00px;width:36.80px;height:1.2px;background:#333"></div>
<div class="ln" style="left:544.70px;top:557.60px;width:36.80px;height:1.2px;background:#333"></div>
<div class="ln" style="left:544.70px;top:563.10px;width:36.80px;height:1.8px;background:#666"></div>
<div class="ln" style="left:592.10px;top:518.00px;width:63.70px;height:1.2px;background:#333"></div>
<div class="ln" style="left:592.10px;top:557.60px;width:63.70px;height:1.2px;background:#333"></div>
<div class="ln" style="left:592.10px;top:563.10px;width:63.70px;height:1.8px;background:#666"></div>
<div class="ln" style="left:666.50px;top:518.00px;width:36.80px;height:1.2px;background:#333"></div>
<div class="ln" style="left:666.50px;top:557.60px;width:36.80px;height:1.2px;background:#333"></div>
<div class="ln" style="left:666.50px;top:563.10px;width:36.80px;height:1.8px;background:#666"></div>
<div class="ln" style="left:713.90px;top:518.00px;width:63.70px;height:1.2px;background:#333"></div>
<div class="ln" style="left:713.90px;top:557.60px;width:63.70px;height:1.2px;background:#333"></div>
<div class="ln" style="left:713.90px;top:563.10px;width:63.70px;height:1.8px;background:#666"></div>
<div class="ln" style="left:788.30px;top:518.00px;width:36.80px;height:1.2px;background:#333"></div>
<div class="ln" style="left:788.30px;top:557.60px;width:36.80px;height:1.2px;background:#333"></div>
<div class="ln" style="left:788.30px;top:563.10px;width:36.80px;height:1.8px;background:#666"></div>
</body></html>
